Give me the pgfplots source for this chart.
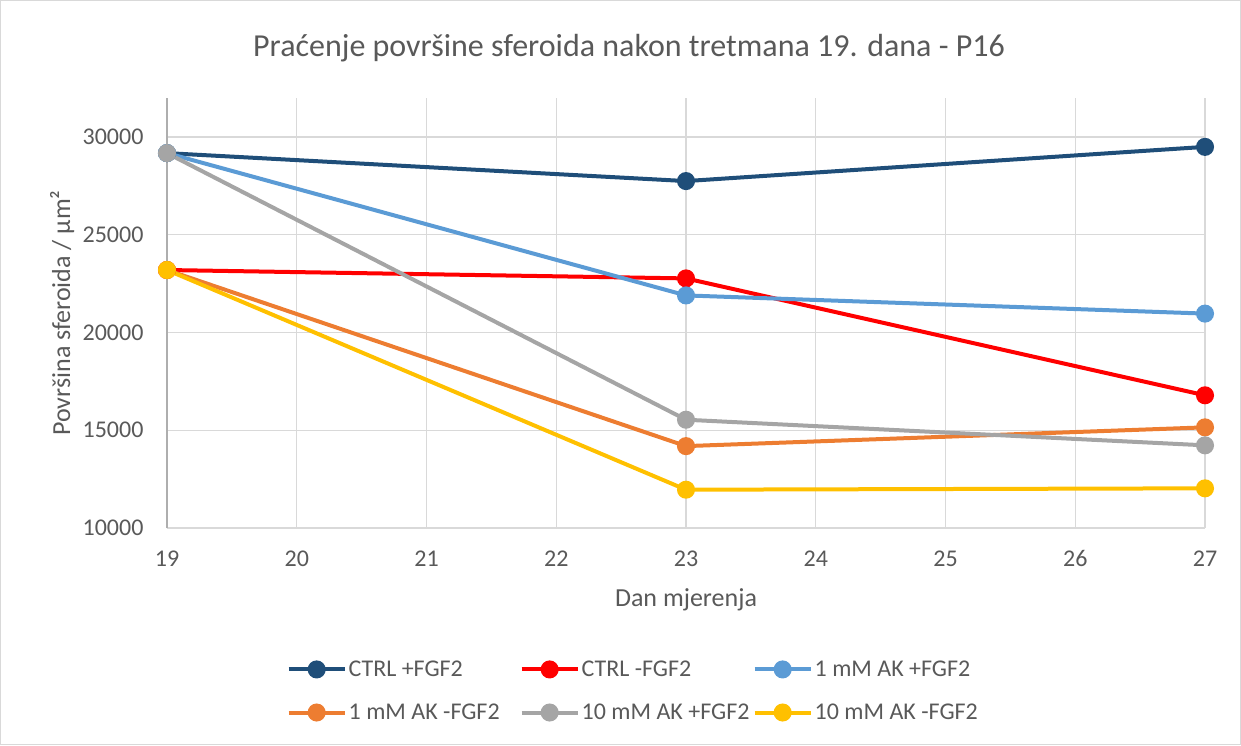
\documentclass[border=0pt]{standalone}
\usepackage{pgfplots}
\pgfplotsset{compat=1.18}
\usepackage{fontspec}
\setmainfont{Carlito}
\definecolor{cA}{RGB}{31,78,121}
\definecolor{cB}{RGB}{255,0,0}
\definecolor{cC}{RGB}{91,155,213}
\definecolor{cD}{RGB}{237,125,49}
\definecolor{cE}{RGB}{165,165,165}
\definecolor{cF}{RGB}{255,192,0}
\definecolor{tc}{RGB}{89,89,89}
\definecolor{gc}{RGB}{217,217,217}
\newcommand{\legtxt}[1]{\makebox[169pt][l]{#1}}
\begin{document}
\begin{tikzpicture}[x=1pt,y=1pt]
\draw[color=gc, line width=1pt] (0.5,-0.5) rectangle (1240.5,-744.5);
\node[font=\fontsize{32}{38}\selectfont, text=tc] at (629,-48) {Praćenje površine sferoida nakon tretmana 19. dana - P16};
\begin{axis}[
  at={(167pt,-528pt)}, anchor=south west,
  scale only axis, width=1038pt, height=430pt,
  xmin=19, xmax=27, ymin=10000, ymax=32000,
  xtick={19,20,...,27}, ytick={10000,15000,...,30000},
  grid=major, major grid style={color=gc, line width=1.3pt},
  axis x line*=bottom, axis y line*=left,
  x axis line style={color=gc, line width=1.5pt, -},
  y axis line style={color=gc!80!black, line width=1.5pt, -},
  major tick length=0pt,
  tick label style={font=\fontsize{24}{29}\selectfont, text=tc},
  /pgf/number format/assume math mode=true,
  scaled y ticks=false,
  yticklabel style={/pgf/number format/1000 sep={}, xshift=-20pt},
  xticklabel style={yshift=-19pt},
  label style={font=\fontsize{26}{31}\selectfont, text=tc},
  xlabel={Dan mjerenja},
  ylabel={Površina sferoida / µm²},
  xlabel style={at={(axis description cs:0.5,-0.168)}, anchor=center},
  ylabel style={at={(axis description cs:-0.101,0.5)}, anchor=center},
  legend columns=3,
  legend cell align=left,
  legend style={at={(axis description cs:0.452,-0.379)}, anchor=center, draw=none, fill=none,
    font=\fontsize{24}{29}\selectfont, text=tc, row sep=22pt},
  legend image code/.code={\draw[#1, mark repeat=2, mark phase=2] plot coordinates {(0pt,0pt) (28pt,0pt) (56pt,0pt)};},
  every axis plot/.append style={line width=4pt, mark=*, mark size=7pt, mark options={solid}},
  clip=false,
]
\addplot[color=cA] coordinates {(19,29180) (23,27750) (27,29500)};
\addlegendentry{\legtxt{CTRL +FGF2}}
\addplot[color=cB] coordinates {(19,23200) (23,22770) (27,16790)};
\addlegendentry{\legtxt{CTRL -FGF2}}
\addplot[color=cC] coordinates {(19,29180) (23,21900) (27,20970)};
\addlegendentry{\legtxt{1 mM AK +FGF2}}
\addplot[color=cD] coordinates {(19,23200) (23,14190) (27,15150)};
\addlegendentry{\legtxt{1 mM AK -FGF2}}
\addplot[color=cE] coordinates {(19,29180) (23,15540) (27,14230)};
\addlegendentry{\legtxt{10 mM AK +FGF2}}
\addplot[color=cF] coordinates {(19,23200) (23,11960) (27,12030)};
\addlegendentry{\legtxt{10 mM AK -FGF2}}
\end{axis}
\end{tikzpicture}
\end{document}
